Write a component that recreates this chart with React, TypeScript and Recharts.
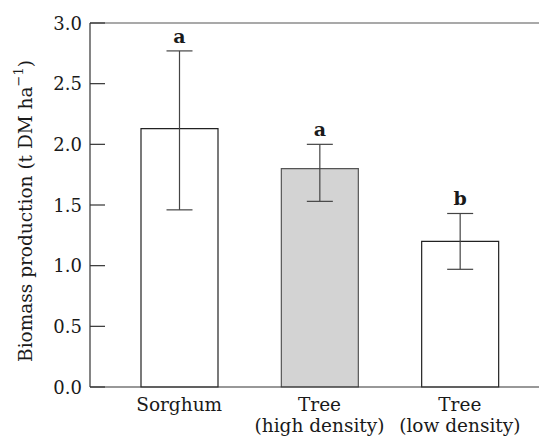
import React from 'react';
import {
  BarChart,
  Bar,
  XAxis,
  YAxis,
  ErrorBar,
  Cell,
  LabelList,
  ReferenceLine,
  Label,
} from 'recharts';

const categories = ['Sorghum', 'Tree|(high density)', 'Tree|(low density)'];
const biomass = [2.13, 1.8, 1.2];
const errLow = [0.67, 0.27, 0.23];
const errHigh = [0.64, 0.2, 0.23];
const letters = ['a', 'a', 'b'];
const yTicks = [0, 0.5, 1.0, 1.5, 2.0, 2.5, 3.0];

const FONT = '"DejaVu Serif", serif';
const INK = '#333';
const TEXT = '#1a1a1a';
const BAR_FILLS = ['#ffffff', '#d3d3d3', '#ffffff'];

const data = categories.map((name, i) => ({
  name,
  value: biomass[i],
  err: [errLow[i], errHigh[i]],
  letter: letters[i],
}));

const YTick = (props: any) => {
  const { x, y, payload } = props;
  return (
    <g>
      <line x1={x + 8} x2={x + 23} y1={y} y2={y} stroke={INK} strokeWidth={1.2} />
      <text x={x} y={y} dy={6.5} textAnchor="end" fontFamily={FONT} fontSize={18} fill={TEXT}>
        {Number(payload.value).toFixed(1)}
      </text>
    </g>
  );
};

const XTick = (props: any) => {
  const { x, y, payload } = props;
  const lines = String(payload.value).split('|');
  return (
    <text x={x} y={y} textAnchor="middle" fontFamily={FONT} fontSize={18.5} fill={TEXT}>
      {lines.map((l, i) => (
        <tspan key={i} x={x} dy={i === 0 ? 16 : 21}>
          {l}
        </tspan>
      ))}
    </text>
  );
};

const LetterLabel = (props: any) => {
  const { x, y, width, height, value, index } = props;
  const perUnit = height / biomass[index];
  const top = y - errHigh[index] * perUnit;
  return (
    <text
      x={x + width / 2}
      y={top - 8}
      textAnchor="middle"
      fontFamily={FONT}
      fontSize={19}
      fontWeight="bold"
      fill={TEXT}
    >
      {value}
    </text>
  );
};

const YLabel = (props: any) => {
  const { viewBox } = props;
  const cx = 25;
  const cy = viewBox.y + viewBox.height / 2 + 6;
  return (
    <text
      x={cx}
      y={cy}
      transform={`rotate(-90, ${cx}, ${cy})`}
      textAnchor="middle"
      dominantBaseline="central"
      fontFamily={FONT}
      fontSize={18.5}
      fill={TEXT}
    >
      Biomass production (t DM ha
      <tspan dy={-7} fontSize={13}>−1</tspan>
      <tspan dy={7}>)</tspan>
    </text>
  );
};

export default function App() {
  return (
    <div style={{ position: 'absolute', left: 0, top: 0, background: '#fff' }}>
      <BarChart
        width={539}
        height={437}
        data={data}
        margin={{ top: 23, right: 0, left: 0, bottom: 0 }}
      >
        <XAxis
          dataKey="name"
          height={50}
          tickLine={false}
          tick={<XTick />}
          axisLine={{ stroke: INK, strokeWidth: 1.2 }}
          padding={{ left: 19, right: 9 }}
          interval={0}
        />
        <YAxis
          width={90}
          domain={[0, 3]}
          ticks={yTicks}
          tickSize={0}
          tickMargin={8}
          tickLine={false}
          tick={<YTick />}
          axisLine={{ stroke: INK, strokeWidth: 1.2 }}
        >
          <Label content={<YLabel />} />
        </YAxis>
        <ReferenceLine y={3} stroke="#555" strokeWidth={1.2} />
        <Bar dataKey="value" barSize={77} stroke="#222" strokeWidth={1.2} isAnimationActive={false}>
          {data.map((d, i) => (
            <Cell key={d.name} fill={BAR_FILLS[i]} stroke={i === 1 ? '#555' : '#222'} />
          ))}
          <ErrorBar dataKey="err" width={13} stroke="#444" strokeWidth={1.2} direction="y" />
          <LabelList dataKey="letter" content={<LetterLabel />} />
        </Bar>
      </BarChart>
    </div>
  );
}
